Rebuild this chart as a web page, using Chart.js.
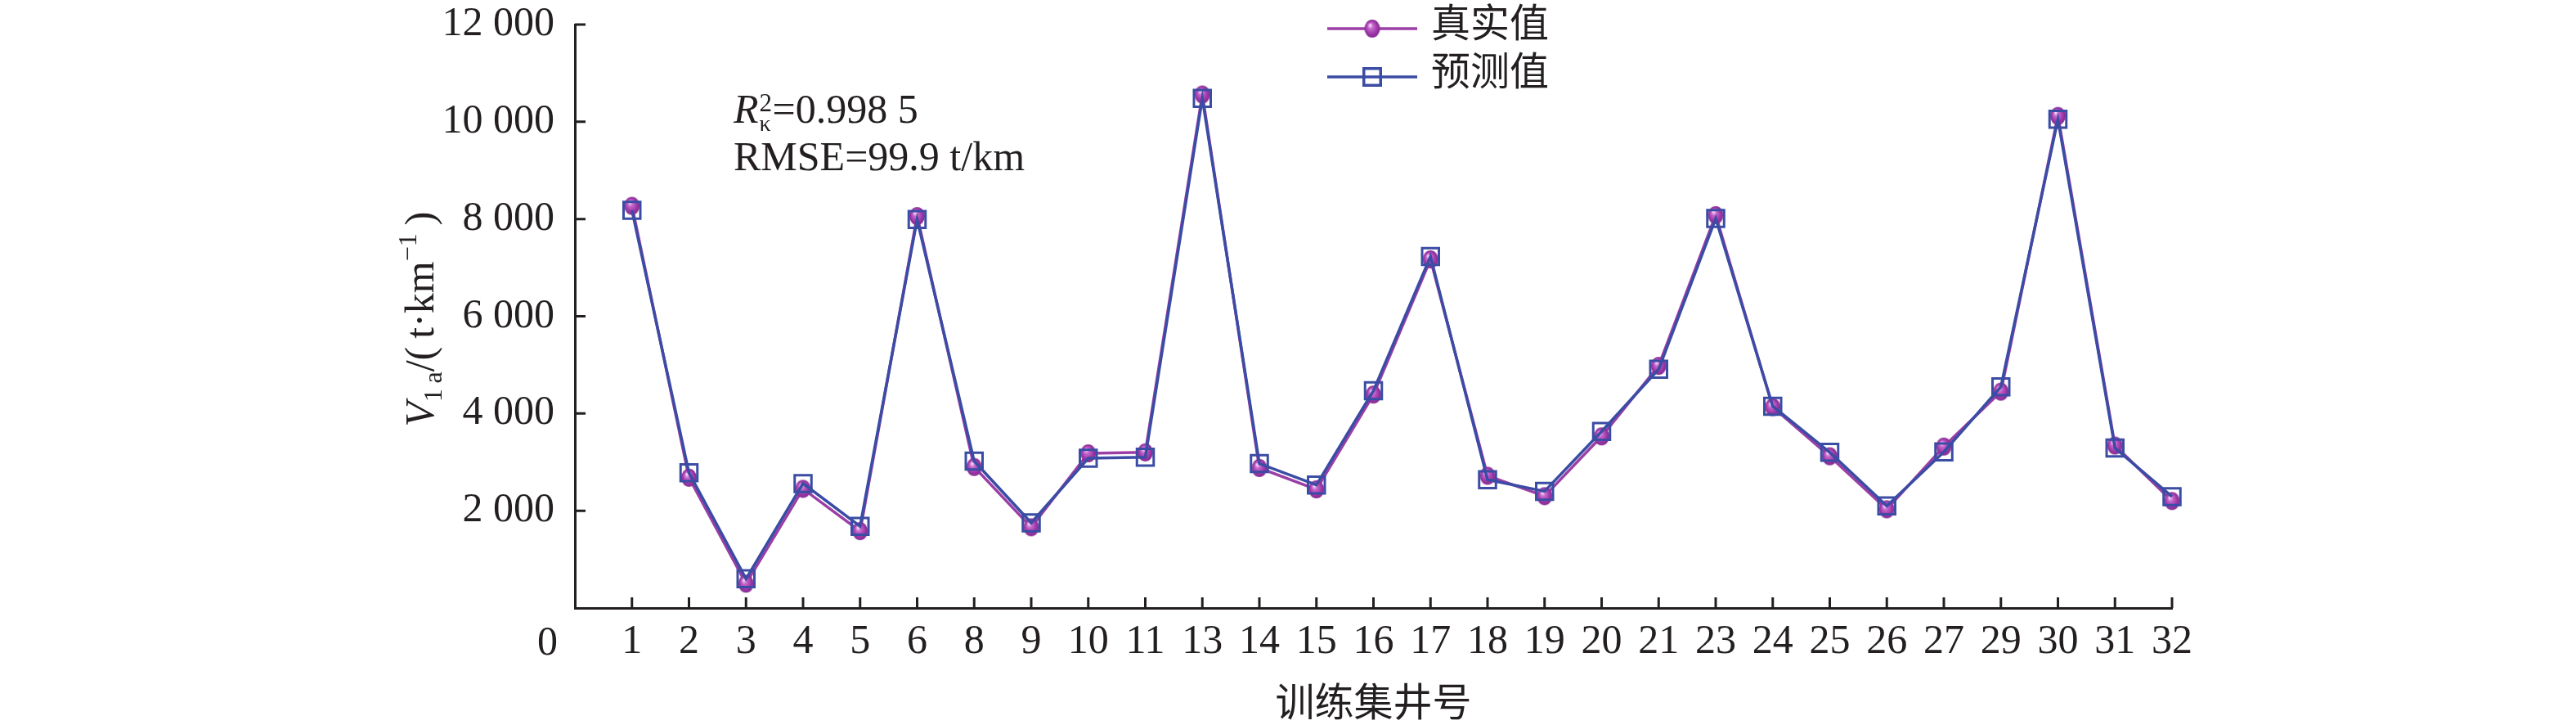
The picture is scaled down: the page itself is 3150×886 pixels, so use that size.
<!DOCTYPE html>
<html>
<head>
<meta charset="utf-8">
<script src="https://cdn.jsdelivr.net/npm/chart.js@4.4.1/dist/chart.umd.min.js"></script>
<style>
  html, body { margin: 0; padding: 0; background: #ffffff; }
  canvas { display: block; }
</style>
</head>
<body>
<canvas id="chart" width="3150" height="886"></canvas>
<script>
// Dati (numero del pozzo di addestramento)
const wells = ["1", "2", "3", "4", "5", "6", "8", "9", "10", "11", "13", "14", "15", "16",
  "17", "18", "19", "20", "21", "23", "24", "25", "26", "27", "29", "30", "31", "32"];
const trueValues = [8270, 2680, 500, 2450, 1580, 8060, 2900, 1660, 3180, 3200, 10560, 2880, 2440, 4390,
  7170, 2720, 2300, 3530, 4980, 8080, 4130, 3120, 2030, 3320, 4450, 10120, 3340, 2200];
const predValues = [8180, 2780, 600, 2560, 1680, 7990, 3020, 1750, 3080, 3100, 10480, 2970, 2530, 4470,
  7230, 2640, 2400, 3630, 4910, 8010, 4150, 3200, 2100, 3210, 4550, 10050, 3290, 2290];
const yTicks = [0, 2000, 4000, 6000, 8000, 10000, 12000];
const seriesNames = ["真实值", "预测值"];

const INK = "#231f20";
const PURPLE = "#9b3fa6";
const BLUE = "#3a4ca4";
const SERIF = "'Liberation Serif', 'Times New Roman', serif";
const CJK = "'Noto Sans CJK SC', sans-serif";

// Pallino sfumato (leggermente ovale) per il valore reale
function makeBall(rx, ry) {
  const c = document.createElement("canvas");
  c.width = rx * 2 + 2;
  c.height = ry * 2 + 2;
  const g = c.getContext("2d");
  const mx = rx + 1, my = ry + 1;
  g.translate(mx, my);
  g.scale(1, ry / rx);
  const grad = g.createRadialGradient(-rx * 0.3, -rx * 0.4, 0.5, 0, 0, rx);
  grad.addColorStop(0, "#f6ddf6");
  grad.addColorStop(0.3, "#c666cc");
  grad.addColorStop(0.75, "#9a35a5");
  grad.addColorStop(1, "#842a90");
  g.fillStyle = grad;
  g.beginPath();
  g.arc(0, 0, rx, 0, 2 * Math.PI);
  g.fill();
  return c;
}
const ball = makeBall(9.5, 11);

// Spazio come separatore delle migliaia
const fmt = (v) => String(v).replace(/\B(?=(\d{3})+(?!\d))/g, " ");

// Testo con pedici / apici
function drawRuns(ctx, runs, x, y) {
  let cx = x;
  runs.forEach((r) => {
    ctx.font = r[1];
    ctx.fillText(r[0], cx, y + r[2]);
    if (!r[3]) cx += ctx.measureText(r[0]).width;
  });
  return cx - x;
}
function runsWidth(ctx, runs) {
  let w = 0;
  runs.forEach((r) => {
    ctx.font = r[1];
    if (!r[3]) w += ctx.measureText(r[0]).width;
  });
  return w;
}

// Tacche interne, etichetta "0", titolo asse y, legenda e annotazioni
const decorations = {
  id: "decorations",
  afterDraw(chart) {
    const { ctx, scales: { x, y } } = chart;
    ctx.save();
    ctx.strokeStyle = INK;
    ctx.lineWidth = 3;
    ctx.beginPath();
    for (let i = 1; i < x.ticks.length; i++) {
      const px = x.getPixelForTick(i);
      ctx.moveTo(px, x.top);
      ctx.lineTo(px, x.top - 13);
    }
    y.ticks.forEach((t, i) => {
      if (t.value === 0) return;
      const py = y.getPixelForTick(i);
      ctx.moveTo(y.right, py);
      ctx.lineTo(y.right + 13, py);
    });
    ctx.stroke();

    ctx.fillStyle = INK;
    ctx.font = "50px " + SERIF;
    ctx.textAlign = "right";
    ctx.textBaseline = "middle";
    ctx.fillText("0", y.right - 21, 787);

    // titolo asse y
    ctx.textAlign = "left";
    ctx.textBaseline = "alphabetic";
    const yTitle = [
      ["V", "italic 50px " + SERIF, 0],
      ["1", "32px " + SERIF, 10],
      ["\u2009a", "32px " + SERIF, 10],
      ["/", "50px " + SERIF, 0],
      ["(\u2009t\u00b7km", "50px " + SERIF, 0],
      ["\u22121", "32px " + SERIF, -21],
      ["\u2009)", "50px " + SERIF, 0]
    ];
    const tw = runsWidth(ctx, yTitle);
    ctx.save();
    ctx.translate(530, 390);
    ctx.rotate(-Math.PI / 2);
    drawRuns(ctx, yTitle, -tw / 2, 0);
    ctx.restore();

    // annotazioni
    ctx.font = "italic 50px " + SERIF;
    const rw = ctx.measureText("R").width;
    drawRuns(ctx, [["R", "italic 50px " + SERIF, 0]], 897, 150);
    drawRuns(ctx, [["2", "31px " + SERIF, -14, true]], 897 + rw + 1, 150);
    drawRuns(ctx, [["\u03ba", "28px " + SERIF, 10, true]], 897 + rw + 1, 150);
    drawRuns(ctx, [["=0.998 5", "50px " + SERIF, 0]], 897 + rw + 17, 150);
    drawRuns(ctx, [["RMSE=99.9 t/km", "50px " + SERIF, 0]], 897, 208);

    // legenda (stesso ordine di seriesNames)
    const rows = [35, 94];
    chart.data.datasets.forEach((ds) => {
      const ly = rows[seriesNames.indexOf(ds.label)];
      ctx.strokeStyle = ds.borderColor;
      ctx.lineWidth = ds.borderWidth;
      ctx.beginPath();
      ctx.moveTo(1623, ly);
      ctx.lineTo(1733, ly);
      ctx.stroke();
      ctx.strokeStyle = ds.pointBorderColor;
      ctx.fillStyle = ds.pointBackgroundColor;
      Chart.helpers.drawPoint(ctx, {
        pointStyle: ds.pointStyle,
        radius: ds.pointRadius,
        borderWidth: ds.pointBorderWidth,
        rotation: 0
      }, 1678, ly);
      ctx.fillStyle = INK;
      ctx.font = "48px " + CJK;
      ctx.textAlign = "left";
      ctx.textBaseline = "middle";
      ctx.fillText(ds.label, 1750, ly - 8);
    });
    ctx.restore();
  }
};

const config = {
  type: "line",
  data: {
    labels: [""].concat(wells),
    datasets: [
      {
        label: seriesNames[1],
        data: [null].concat(predValues),
        borderColor: BLUE,
        borderWidth: 3.5,
        pointStyle: "rect",
        pointRadius: 14.5,
        pointBorderWidth: 3,
        pointBorderColor: BLUE,
        pointBackgroundColor: "rgba(0,0,0,0)",
        tension: 0,
        order: 0
      },
      {
        label: seriesNames[0],
        data: [null].concat(trueValues),
        borderColor: PURPLE,
        borderWidth: 3.5,
        pointStyle: ball,
        pointRadius: 10,
        pointBorderWidth: 0,
        pointBorderColor: PURPLE,
        pointBackgroundColor: PURPLE,
        tension: 0,
        order: 1
      }
    ]
  },
  options: {
    responsive: false,
    animation: false,
    events: [],
    layout: { padding: { left: 0, right: 494, top: 30, bottom: 0 } },
    plugins: {
      legend: { display: false },
      tooltip: { enabled: false }
    },
    scales: {
      x: {
        type: "category",
        offset: false,
        grid: { display: false, drawTicks: false },
        border: { display: true, color: INK, width: 3 },
        ticks: {
          autoSkip: false,
          maxRotation: 0,
          padding: 12,
          color: INK,
          font: { family: SERIF, size: 50, lineHeight: 1.2 }
        },
        title: {
          display: true,
          text: "训练集井号",
          color: INK,
          font: { family: CJK, size: 48, lineHeight: 1.2 },
          padding: { top: 0, bottom: 0 }
        },
        afterFit: (scale) => { scale.height = 143; }
      },
      y: {
        min: 0,
        max: 12000,
        grid: { display: false, drawTicks: false },
        border: { display: true, color: INK, width: 3 },
        afterBuildTicks: (scale) => { scale.ticks = yTicks.map((v) => ({ value: v })); },
        ticks: {
          padding: 25,
          color: INK,
          // lineHeight ridotta: evita che l'etichetta in alto sposti l'area del grafico
          font: { family: SERIF, size: 50, lineHeight: 0.2 },
          callback: (v) => (v === 0 ? "" : fmt(v))
        },
        afterFit: (scale) => { scale.width = 703; }
      }
    }
  },
  plugins: [decorations]
};

const ctx = document.getElementById("chart").getContext("2d");
const chart = new Chart(ctx, config);
</script>
</body>
</html>
